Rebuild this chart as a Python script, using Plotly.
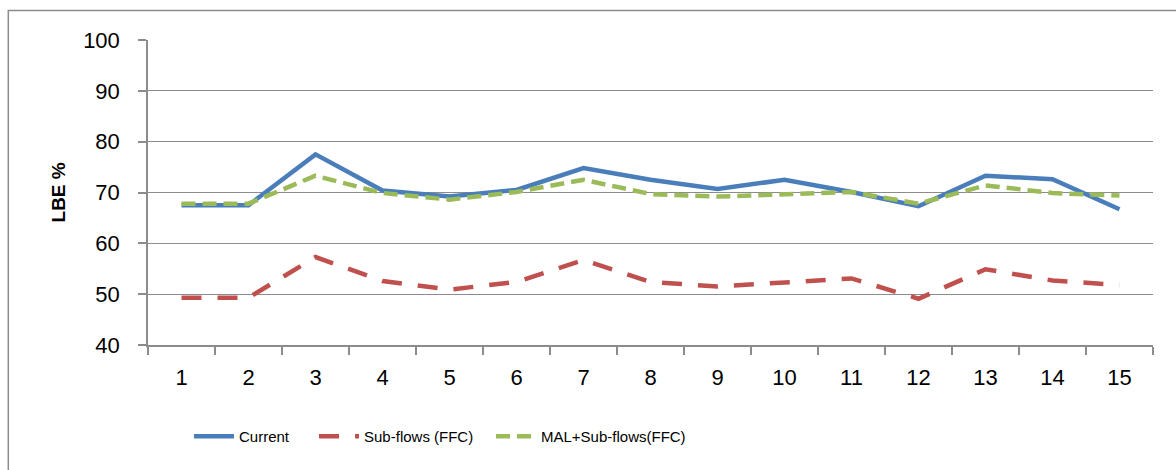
import plotly.graph_objects as go

categories = [str(i) for i in range(1, 16)]
current = [67.5, 67.5, 77.5, 70.4, 69.2, 70.5, 74.8, 72.5, 70.7, 72.5, 70.1, 67.3, 73.3, 72.6, 66.7]
sub_flows = [49.3, 49.3, 57.3, 52.6, 50.9, 52.4, 56.7, 52.4, 51.5, 52.2, 53.1, 49.1, 54.9, 52.7, 51.8]
mal_sub_flows = [67.8, 67.8, 73.3, 69.9, 68.6, 70.1, 72.5, 69.7, 69.2, 69.7, 70.1, 67.8, 71.4, 69.9, 69.4]
y_ticks = [40, 50, 60, 70, 80, 90, 100]

fig = go.Figure()
fig.add_trace(go.Scatter(x=categories, y=current, mode="lines", name="Current", legend="legend",
                         line=dict(color="#4A7EBB", width=4.5)))
fig.add_trace(go.Scatter(x=categories, y=sub_flows, mode="lines", name="Sub-flows (FFC)", legend="legend2",
                         line=dict(color="#C0504D", width=4.5, dash="20px,16px")))
fig.add_trace(go.Scatter(x=categories, y=mal_sub_flows, mode="lines", name="MAL+Sub-flows(FFC)", legend="legend3",
                         line=dict(color="#9BBB59", width=4.5, dash="14px,7px")))

grid = "#8C8C8C"
leg_font = dict(family="Liberation Sans, Arial, sans-serif", size=15)

def leg(x):
    return dict(orientation="h", x=x, xanchor="left", y=-0.30, yanchor="middle",
                font=leg_font, itemwidth=40, bgcolor="rgba(0,0,0,0)")

fig.update_layout(
    width=1176, height=470,
    margin=dict(l=148, r=23, t=40, b=125),
    paper_bgcolor="white", plot_bgcolor="white",
    font=dict(family="Liberation Sans, Arial, sans-serif", size=22, color="black"),
    showlegend=True,
    legend=leg(0.0408),
    legend2=leg(0.1652),
    legend3=leg(0.3413),
    xaxis=dict(type="category", range=[-0.5, 14.5], showgrid=False,
               showline=True, linecolor=grid, linewidth=1.5,
               ticks="outside", tickson="boundaries", ticklen=8, tickcolor=grid, tickwidth=1.5,
               ticklabelstandoff=12),
    yaxis=dict(range=[40, 100], tickvals=y_ticks, showgrid=True, gridcolor=grid, gridwidth=1.3,
               showline=True, linecolor=grid, linewidth=1.5, zeroline=False,
               ticks="outside", ticklen=8, tickcolor=grid, tickwidth=1.5,
               ticklabelstandoff=14),
    shapes=[dict(type="rect", xref="paper", yref="paper", x0=-0.139, x1=1.05, y0=-0.5, y1=1.0966,
                 line=dict(color="#8C8C8C", width=1.5), fillcolor="rgba(0,0,0,0)", layer="below")],
    annotations=[dict(text="<b>LBE %</b>", xref="paper", yref="paper", x=-0.0886, y=0.50,
                      textangle=-90, showarrow=False, xanchor="center", yanchor="middle",
                      font=dict(family="Liberation Sans, Arial, sans-serif", size=19))],
)

fig.write_html("out.html", config={"displayModeBar": False},
               post_script="document.body.style.margin='0';document.body.style.overflow='hidden';")
